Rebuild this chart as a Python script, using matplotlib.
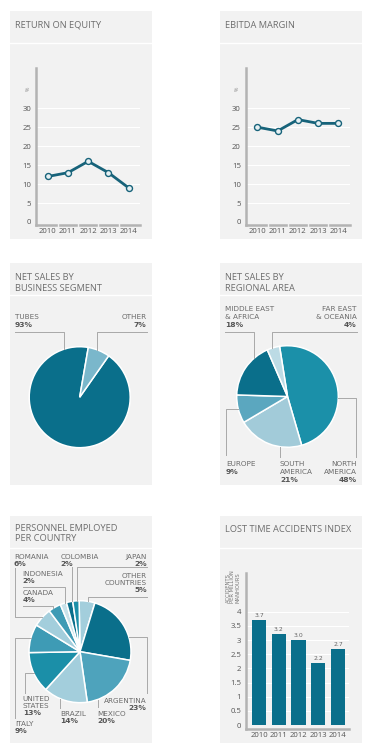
import matplotlib
matplotlib.use('Agg')
import matplotlib.pyplot as plt
from matplotlib.patches import Rectangle
from matplotlib.lines import Line2D
import numpy as np

plt.rcParams['font.family'] = ['Open Sans', 'DejaVu Sans']

# ---------------- data ----------------
years = ['2010', '2011', '2012', '2013', '2014']
roe = [12, 13, 16, 13, 9]
ebitda = [25, 24, 27, 26, 26]
lti = [3.7, 3.2, 3.0, 2.2, 2.7]
lti_labels = ['3.7', '3.2', '3.0', '2.2', '2.7']

seg_names = ['TUBES', 'OTHER']
seg_values = [93, 7]

reg_names = ['NORTH\nAMERICA', 'SOUTH\nAMERICA', 'EUROPE', 'MIDDLE EAST\n& AFRICA', 'FAR EAST\n& OCEANIA']
reg_values = [48, 21, 9, 18, 4]

pers_names = ['OTHER\nCOUNTRIES', 'ARGENTINA', 'MEXICO', 'BRAZIL', 'UNITED\nSTATES', 'ITALY',
              'ROMANIA', 'CANADA', 'INDONESIA', 'COLOMBIA', 'JAPAN']
pers_values = [5, 23, 20, 14, 13, 9, 6, 4, 2, 2, 2]

# ---------------- style ----------------
BG = '#f2f2f2'
TITLE_C = '#6e6e6e'
TXT = '#6a6a6a'
PCT = '#555555'
LEAD = '#a8a8a8'
AXC = '#b3b3b3'
LINE_C = '#17637a'
DARK = '#0a6f8b'

seg_colors = [DARK, '#7ab7cb']
reg_colors = ['#1b90a9', '#a2cbd9', '#5ba7bf', DARK, '#bcdbe5']
pers_colors = ['#a3cedc', DARK, '#4ea3bc', '#a3cedc', '#1b8fa8', '#3e9bb5',
               '#a3cedc', '#3e9bb5', '#c9e2ea', DARK, '#1b8fa8']

W, H = 371, 745
fig = plt.figure(figsize=(W / 100, H / 100), dpi=100)
fig.patch.set_facecolor('white')


def box(x0, y0, x1, y1):
    return [x0 / W, 1 - y1 / H, (x1 - x0) / W, (y1 - y0) / H]


def fpt(x, y):
    return x / W, 1 - y / H


def panel(x0, y0, x1, y1, sep, title_lines, ty, tdy=10.5):
    fig.add_artist(Rectangle((x0 / W, 1 - y1 / H), (x1 - x0) / W, (y1 - y0) / H,
                             transform=fig.transFigure, facecolor=BG, edgecolor='none', zorder=-5))
    fig.add_artist(Line2D([x0 / W, x1 / W], [1 - sep / H, 1 - sep / H], transform=fig.transFigure,
                          color='white', lw=1.0, zorder=-4))
    for i, t in enumerate(title_lines):
        fig.text(*fpt(x0 + 5, ty + i * tdy + 3.5), t, fontsize=6.7, color=TITLE_C,
                 ha='left', va='baseline')


panel(10, 11, 152, 239, 43, ['RETURN ON EQUITY'], 24)
panel(220, 11, 362, 239, 43, ['EBITDA MARGIN'], 24)
panel(10, 263, 152, 485, 295, ['NET SALES BY', 'BUSINESS SEGMENT'], 276.7)
panel(220, 263, 362, 485, 295, ['NET SALES BY', 'REGIONAL AREA'], 276.7)
panel(10, 516, 152, 743, 548, ['PERSONNEL EMPLOYED', 'PER COUNTRY'], 527.3)
panel(220, 516, 362, 743, 548, ['LOST TIME ACCIDENTS INDEX'], 528.3)


# ---------------- line charts ----------------
def line_chart(x0, values):
    ax = fig.add_axes(box(x0, 68, x0 + 104, 224.5))
    ax.patch.set_visible(False)
    xs = np.arange(len(years))
    ax.set_xlim(-0.58, 4.56)
    ax.set_ylim(-0.66, 40.6)
    for v in range(5, 31, 5):
        ax.axhline(v, color='white', lw=0.8, zorder=1)
    ax.plot(xs, values, color=LINE_C, lw=2.0, marker='o', ms=4.3,
            mfc='#e6f0f3', mec=LINE_C, mew=1.0, zorder=3, solid_capstyle='round')
    for s in ['top', 'right']:
        ax.spines[s].set_visible(False)
    ax.spines['left'].set_color(AXC)
    ax.spines['left'].set_linewidth(1.8)
    ax.spines['bottom'].set_color(AXC)
    ax.spines['bottom'].set_linewidth(1.8)
    ax.set_yticks(range(0, 31, 5))
    ax.set_yticklabels([str(v) for v in range(0, 31, 5)])
    ax.set_xticks(xs)
    ax.set_xticklabels(years)
    ax.tick_params(axis='both', length=0, labelsize=5.6, labelcolor='#555555')
    ax.tick_params(axis='y', pad=3.5)
    ax.tick_params(axis='x', pad=2.5)
    for b in [0.5, 1.5, 2.5, 3.5]:
        ax.plot([b, b], [-1.3, 0.0], color=BG, lw=1.0, clip_on=False, zorder=5)
    ax.text(-0.85, 35, '%', fontsize=3.8, color='#888888',
            rotation=90, ha='right', va='center')
    return ax


line_chart(36, roe)
line_chart(245.7, ebitda)

# ---------------- bar chart ----------------
axb = fig.add_axes(box(246, 573, 349, 729))
axb.patch.set_visible(False)
axb.set_xlim(-0.67, 4.56)
axb.set_ylim(-0.14, 5.37)
for v in np.arange(0.5, 4.01, 0.5):
    axb.axhline(v, color='white', lw=0.8, zorder=1)
bx = np.arange(len(years))
axb.bar(bx, lti, width=0.73, color=DARK, zorder=3)
for xi, v, lab in zip(bx, lti, lti_labels):
    axb.text(xi, v + 0.07, lab, ha='center', va='bottom', fontsize=4.4, color='#666666',
             family=['Liberation Sans Narrow', 'DejaVu Sans'])
for s in ['top', 'right']:
    axb.spines[s].set_visible(False)
axb.spines['left'].set_color(AXC)
axb.spines['left'].set_linewidth(1.8)
axb.spines['bottom'].set_color(AXC)
axb.spines['bottom'].set_linewidth(1.8)
yt = np.arange(0, 4.01, 0.5)
axb.set_yticks(yt)
axb.set_yticklabels(['0', '0.5', '1', '1.5', '2', '2.5', '3', '3.5', '4'])
axb.set_xticks(bx)
axb.set_xticklabels(years)
axb.tick_params(axis='both', length=0, labelsize=5.6, labelcolor='#555555')
axb.tick_params(axis='y', pad=3.5)
axb.tick_params(axis='x', pad=2.5)
fig.text(*fpt(233, 603), 'ACCIDENTS\nPER MILLION\nMANHOURS', rotation=90, fontsize=3.8,
         color='#777777', ha='center', va='bottom', multialignment='left', linespacing=0.95,
         family=['Liberation Sans Narrow', 'DejaVu Sans'])


# ---------------- pies ----------------
def pie(cx, cy, r, values, colors, start):
    ax = fig.add_axes(box(cx - r, cy - r, cx + r, cy + r))
    ax.pie(values, colors=colors, startangle=start, counterclock=False, radius=1,
           wedgeprops=dict(edgecolor='white', linewidth=1.1))
    ax.set_xlim(-1, 1)
    ax.set_ylim(-1, 1)
    ax.set_aspect('equal')
    for p in ax.patches:
        p.set_clip_on(False)
    return ax


def leader(pts, cx, cy, r, end):
    """pts: polyline in px; final segment extends to the circle along direction `end`."""
    pts = list(pts)
    lx, ly = pts[-1]
    if end == 'down':
        pts.append((lx, cy - np.sqrt(r ** 2 - (lx - cx) ** 2)))
    elif end == 'up':
        pts.append((lx, cy + np.sqrt(r ** 2 - (lx - cx) ** 2)))
    elif end == 'right':
        pts.append((cx - np.sqrt(r ** 2 - (ly - cy) ** 2), ly))
    elif end == 'left':
        pts.append((cx + np.sqrt(r ** 2 - (ly - cy) ** 2), ly))
    xs = [p[0] / W for p in pts]
    ys = [1 - p[1] / H for p in pts]
    fig.add_artist(Line2D(xs, ys, transform=fig.transFigure, color=LEAD, lw=0.7, zorder=6))


LBL_FAM = ['Liberation Sans Narrow', 'DejaVu Sans']


def label(x, y, name, value, ha, dy):
    lines = name.split('\n')
    for i, t in enumerate(lines):
        fig.text(*fpt(x, y + i * dy + 2.4), t, fontsize=5.2, color=TXT, ha=ha, va='baseline',
                 family=LBL_FAM)
    fig.text(*fpt(x, y + len(lines) * dy + 2.4), f'{value}%', fontsize=5.4, color=PCT, ha=ha,
             va='baseline', fontweight='bold', family=LBL_FAM)


# business segment
c1 = (79.7, 397.2, 50.5)
pie(*c1, seg_values, seg_colors, 55)
label(15, 316.7, seg_names[0], seg_values[0], 'left', 8.3)
label(146.7, 316.7, seg_names[1], seg_values[1], 'right', 8.3)
leader([(15, 331.7), (64, 331.7)], *c1, 'down')
leader([(146.7, 331.7), (97.3, 331.7)], *c1, 'down')

# regional area
c2 = (287.5, 396.5, 50.8)
pie(*c2, reg_values, reg_colors, 99)
label(356.7, 463.3, reg_names[0], reg_values[0], 'right', 8.3)
label(280, 463.3, reg_names[1], reg_values[1], 'left', 8.3)
label(226, 463.3, reg_names[2], reg_values[2], 'left', 8.3)
label(225, 308.3, reg_names[3], reg_values[3], 'left', 8.3)
label(356.7, 308.3, reg_names[4], reg_values[4], 'right', 8.3)
leader([(225, 331.7), (254.3, 331.7)], *c2, 'down')
leader([(356.7, 331.7), (271.7, 331.7)], *c2, 'down')
leader([(226, 455), (226, 409.3)], *c2, 'right')
leader([(280, 456.7)], *c2, 'up')
leader([(356, 456.7), (356, 397.7)], *c2, 'left')

# personnel
c3 = (80, 651.7, 51)
pie(*c3, pers_values, pers_colors, 91)
PD = 7.0
label(146.7, 576, pers_names[0], pers_values[0], 'right', PD)
label(146.7, 700.7, pers_names[1], pers_values[1], 'right', PD)
label(97.7, 713.3, pers_names[2], pers_values[2], 'left', PD)
label(60, 713.3, pers_names[3], pers_values[3], 'left', PD)
label(22.7, 698.3, pers_names[4], pers_values[4], 'left', PD)
label(15, 723.3, pers_names[5], pers_values[5], 'left', PD)
label(14, 556.7, pers_names[6], pers_values[6], 'left', PD)
label(22.7, 592.7, pers_names[7], pers_values[7], 'left', PD)
label(22.7, 573.3, pers_names[8], pers_values[8], 'left', PD)
label(60.7, 556.7, pers_names[9], pers_values[9], 'left', PD)
label(146.7, 556.7, pers_names[10], pers_values[10], 'right', PD)
leader([(146.7, 597.3), (88.3, 597.3)], *c3, 'down')
leader([(146.7, 693.3), (146.7, 636.7)], *c3, 'left')
leader([(97.7, 707.3)], *c3, 'up')
leader([(60, 708.3)], *c3, 'up')
leader([(25, 692.7), (25, 673.3)], *c3, 'right')
leader([(15, 718.3), (15, 638.3)], *c3, 'right')
leader([(14.7, 568), (14.7, 617.3)], *c3, 'right')
leader([(22.7, 606), (53.3, 606)], *c3, 'down')
leader([(22.7, 586.7), (65, 586.7)], *c3, 'down')
leader([(72, 566.7)], *c3, 'down')
leader([(146.7, 567.3), (77.3, 567.3)], *c3, 'down')

fig.savefig('out.png', dpi=100, facecolor='white')
